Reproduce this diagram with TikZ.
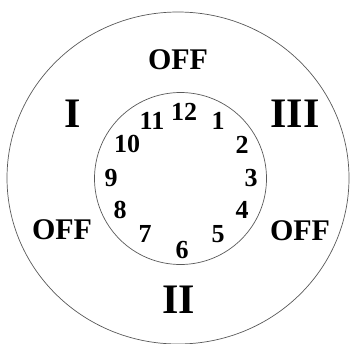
\documentclass[tikz,border=0pt]{standalone}
\usepackage{fontspec}
\setmainfont{Liberation Serif}
\begin{document}
\begin{tikzpicture}[x=1pt,y=-1pt,
  ring/.style={draw=black!65,line width=0.7pt},
  num/.style={font=\fontsize{26}{26}\selectfont\bfseries,inner sep=0pt},
  offlbl/.style={font=\fontsize{30}{30}\selectfont\bfseries,inner sep=0pt},
  roman/.style={font=\fontsize{42}{42}\selectfont\bfseries,inner sep=0pt}]
\useasboundingbox (0,0) rectangle (350,343);
\draw[ring] (178,178) ellipse [x radius=171, y radius=166];
\draw[ring] (180.5,178.5) circle [radius=86];
\node[offlbl] (offtop) at (178,60) {OFF};
\node[offlbl] (offleft) at (62,230) {OFF};
\node[offlbl] (offright) at (300,231) {OFF};
\node[roman] (rI) at (73,114) {I};
\node[roman] (rIII) at (295,114) {III};
\node[roman] (rII) at (179,300) {II};
\node[num] (n12) at (184,112) {12};
\node[num] (n1) at (218,121) {1};
\node[num] (n2) at (242,145) {2};
\node[num] (n3) at (251,178) {3};
\node[num] (n4) at (242,210) {4};
\node[num] (n5) at (218,234) {5};
\node[num] (n6) at (182,250) {6};
\node[num] (n7) at (145,234) {7};
\node[num] (n8) at (120,210) {8};
\node[num] (n9) at (111,178) {9};
\node[num] (n10) at (127,144) {10};
\node[num] (n11) at (152,121) {11};
\end{tikzpicture}
\end{document}
